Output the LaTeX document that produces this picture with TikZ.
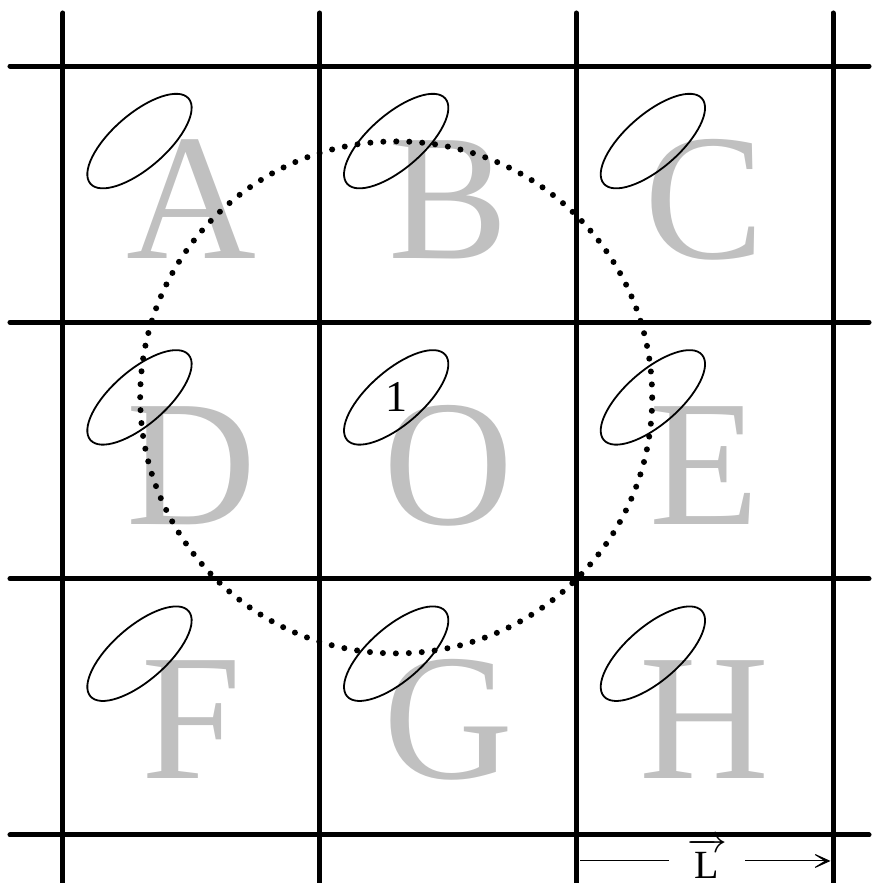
\documentclass[tikz,border=0pt]{standalone}
\usepackage{amsmath,fontspec}
\setmainfont{Liberation Serif}
\usetikzlibrary{arrows.meta,positioning,shapes.geometric,calc}
\definecolor{Cellc}{HTML}{C0C0C0}
\tikzset{
  wall/.style={line width=5pt, line cap=round},
  ring/.style={ellipse, draw, line width=1.8pt, minimum width=130pt, minimum height=54pt, inner sep=0pt, rotate=41},
  cellname/.style={text=Cellc, font=\fontsize{180}{180}\selectfont, anchor=base, inner sep=0pt},
  cutoff/.style={line width=6pt, line cap=round, dash pattern=on 0pt off 12.97pt},
  dimline/.style={line width=1pt},
  smalllab/.style={font=\fontsize{44}{44}\selectfont, inner sep=0pt},
}
\newcommand{\RingT}[2]{({#1+0.298}, {#2+0.7074})}

\begin{document}
\begin{tikzpicture}[x=256.7pt, y=256.3pt]
  \useasboundingbox (-0.2454,-0.1873) rectangle (3.1749,3.2579);
  % cell names
  \foreach \lab/\a/\yb in {A/0/2.251, B/1/2.251, C/2/2.251, D/0/1.2095, O/1/1.2095, E/2/1.2095, F/0/0.2185, G/1/0.2185, H/2/0.2185}
    \node[cellname] (cell-\lab) at ({\a+0.5},\yb) {\lab};
  % lattice
  \foreach \xx in {0,...,3} \draw[wall] (\xx,-0.3) -- (\xx,3.2072);
  \foreach \yy in {0,...,3} \draw[wall] (-0.2065,\yy) -- (3.14,\yy);
  % images of the molecule
  \foreach \a in {0,1,2}{\foreach \b in {0,1,2}{%
    \node[ring] (ring-\a-\b) at \RingT{\a}{\b} {};}}
  \draw[cutoff] (ring-1-1.center) circle[radius=256pt];
  \node[smalllab] (one) at (ring-1-1.center) {1};
  % box length
  \coordinate (dimL) at (2.015,-0.1014);
  \coordinate (dimR) at (2.99,-0.1014);
  \node[inner ysep=0pt, inner xsep=18pt, anchor=base] (Lvec) at (2.509,-0.171)
    {\scalebox{1.6}{\fontsize{25}{25}\selectfont$\overrightarrow{\,\text{L}\,}$}};
  \draw[dimline] (dimL) -- (dimL -| Lvec.west);
  \draw[dimline, -{Stealth[length=22pt, width=20pt, inset=16pt]}] (dimR -| Lvec.east) -- (dimR);
\end{tikzpicture}
\end{document}
